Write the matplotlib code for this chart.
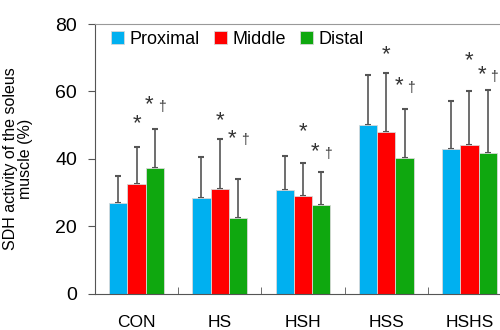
import numpy as np
import matplotlib.pyplot as plt

plt.rcParams['font.family'] = ['Liberation Sans', 'DejaVu Sans']

groups = ['CON', 'HS', 'HSH', 'HSS', 'HSHS']
series = ['Proximal', 'Middle', 'Distal']
colors = ['#00B0F0', '#FF0000', '#0FA80F']

proximal = [26.9, 28.4, 30.7, 50.2, 43.0]
middle = [32.6, 31.0, 28.9, 48.0, 44.0]
distal = [37.2, 22.5, 26.4, 40.2, 41.8]

proximal_sd = [8.1, 12.2, 10.3, 14.8, 14.2]
middle_sd = [11.0, 14.8, 9.9, 17.6, 16.0]
distal_sd = [11.7, 11.5, 9.6, 14.7, 18.7]

# y positions of the significance marks
star_y = [50.4, 51.3, 48.0, 70.8, 69.0]
star_dag_y = [56.0, 46.0, 42.0, 61.6, 64.9]

fig = plt.figure(figsize=(5, 3.3), dpi=100)
ax = fig.add_axes([0.19, 0.11, 0.832, 0.817])

x = np.arange(len(groups))
w = 0.22
values = [proximal, middle, distal]
sds = [proximal_sd, middle_sd, distal_sd]
for i in range(3):
    ax.bar(x + (i - 1) * w, values[i], w, color=colors[i], edgecolor='#d8d8d8',
           linewidth=0.6, label=series[i], zorder=2)
    ax.errorbar(x + (i - 1) * w, values[i], yerr=[np.zeros(5), sds[i]], fmt='none',
                ecolor='#555555', elinewidth=1.2, capsize=2.5, capthick=1.5, zorder=1)

for k in range(len(groups)):
    ax.text(x[k], star_y[k], '*', ha='center', va='center', fontsize=16, color='#333333')
    ax.text(x[k] + 0.15, star_dag_y[k], '*', ha='center', va='center', fontsize=16, color='#333333')
    ax.text(x[k] + 0.3, star_dag_y[k] - 0.5, '\u2020', ha='center', va='center', fontsize=10, color='#333333')

ax.set_xlim(-0.5, 4.5)
ax.set_ylim(0, 80)
ax.set_yticks([0, 20, 40, 60, 80])
ax.set_xticks(x)
ax.set_xticklabels(groups)
ax.set_xticks(x[:-1] + 0.5, minor=True)
ax.tick_params(axis='x', which='major', length=0, labelsize=12.5, pad=15)
ax.tick_params(axis='x', which='minor', direction='in', length=5, color='#555555')
ax.tick_params(axis='y', direction='out', length=5, labelsize=14, color='#555555', pad=8)
for s in ['left', 'top', 'bottom']:
    ax.spines[s].set_color('#555555')
ax.spines['top'].set_color('#999999')
ax.spines['right'].set_visible(False)

ax.set_ylabel('SDH activity of the soleus\nmuscle (%)', fontsize=11.5, linespacing=0.95)
ax.yaxis.set_label_coords(-0.15, 0.5)

ax.legend(loc='upper left', ncol=3, frameon=False, fontsize=13, handlelength=0.7,
          handleheight=0.7, handletextpad=0.3, columnspacing=0.8,
          bbox_to_anchor=(0.0, 1.035))

fig.savefig('out.png', dpi=100)
